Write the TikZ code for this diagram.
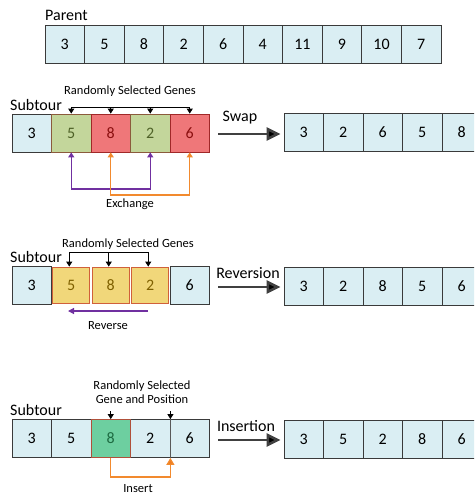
\documentclass[tikz,border=0pt]{standalone}
\usepackage{fontspec}
\setmainfont{Carlito}
\usetikzlibrary{arrows.meta}
\definecolor{cellblue}{HTML}{DAEEF3}
\definecolor{cellborder}{HTML}{3A3A3A}
\definecolor{gfill}{HTML}{C3D69B}
\definecolor{gtext}{HTML}{4F6228}
\definecolor{gborder}{HTML}{8B5A3C}
\definecolor{rfill}{HTML}{EF7779}
\definecolor{rtext}{HTML}{8B1010}
\definecolor{rborder}{HTML}{A02828}
\definecolor{yfill}{HTML}{F1D77A}
\definecolor{ytext}{HTML}{7F6000}
\definecolor{yborder}{HTML}{D0603A}
\definecolor{mfill}{HTML}{6DCFA0}
\definecolor{mtext}{HTML}{1D6B42}
\definecolor{mborder}{HTML}{B0503A}
\definecolor{purp}{HTML}{7030A0}
\definecolor{orng}{HTML}{F28A2E}
\definecolor{orngtip}{HTML}{F07D1E}
\tikzset{
  cell/.style={draw=cellborder, line width=0.8pt, fill=cellblue, minimum width=39.5pt, minimum height=38pt, inner sep=0pt, font=\fontsize{16}{19}\selectfont},
  gcell/.style={cell, fill=gfill, draw=gborder, text=gtext},
  rcell/.style={cell, fill=rfill, draw=rborder, text=rtext},
  ycell/.style={cell, fill=yfill, draw=yborder, text=ytext, minimum width=37pt, minimum height=36pt},
  mcell/.style={cell, fill=mfill, draw=mborder, text=mtext},
  biglabel/.style={font=\fontsize{16}{19}\selectfont, inner sep=0pt},
  smalllabel/.style={font=\fontsize{12.5}{15}\selectfont, inner sep=0pt, align=center},
  bracket/.style={line width=0.8pt, black},
  downarrow/.style={line width=0.8pt, black, -{Triangle[width=6pt,length=5pt]}},
  oparrow/.style={line width=2.6pt, black!75, -{Triangle[width=13pt,length=14pt,fill=black]}, shorten >=3pt},
  purpline/.style={line width=1.2pt, purp, {Triangle[width=6pt,length=5pt]}-{Triangle[width=6pt,length=5pt]}},
  orngline/.style={line width=1.3pt, orng, {Triangle[width=6pt,length=5pt,fill=orngtip]}-{Triangle[width=6pt,length=5pt,fill=orngtip]}},
}
\begin{document}
\begin{tikzpicture}[x=1pt,y=-1pt]
\useasboundingbox (0,0) rectangle (474,495);
\clip (0,0) rectangle (474,495);

% Parent
\node[biglabel, anchor=base west] (parentlbl) at (45,21) {Parent};
\foreach \v [count=\i] in {3,5,8,2,6,4,11,9,10,7}{
  \node[cell, minimum width=39.6pt] (p\i) at ({45+19.8+39.6*(\i-1)},44) {\v};
}

% ---- Swap ----
\node[biglabel, anchor=base west] (sub1) at (10,110) {Subtour};
\node[cell] (s1) at (31.75,133) {3};
\node[gcell] (s2) at (71.25,133) {5};
\node[rcell] (s3) at (110.75,133) {8};
\node[gcell] (s4) at (150.25,133) {2};
\node[rcell] (s5) at (189.75,133) {6};
\node[smalllabel] (rsg1) at (130,91) {Randomly Selected Genes};
\draw[bracket] (s2.north |- 0,107) -- (s5.north |- 0,107);
\foreach \k in {2,3,4,5}{ \draw[downarrow] (s\k.north |- 0,107) -- (s\k.north); }
\draw[purpline] (s2.south) -- (s2.south |- 0,189) -- (s4.south |- 0,189) -- (s4.south);
\draw[orngline] (s3.south) -- (s3.south |- 0,195) -- (s5.south |- 0,195) -- (s5.south);
\node[smalllabel] (exch) at (130,204) {Exchange};

\coordinate (sw0) at (218,134);
\node[biglabel] (swaplbl) at (240,118) {Swap};
\foreach \v [count=\i] in {3,2,6,5,8}{
  \node[cell] (t\i) at ({284+19.75+39.5*(\i-1)},132.5) {\v};
}
\draw[oparrow] (sw0) -- (t1.west |- sw0);

% ---- Reversion ----
\node[biglabel, anchor=base west] (sub2) at (10,262) {Subtour};
\node[cell] (u1) at (31.75,285) {3};
\node[ycell] (u2) at (71.25,285) {5};
\node[ycell] (u3) at (110.75,285) {8};
\node[ycell] (u4) at (150.25,285) {2};
\node[cell] (u5) at (189.75,285) {6};
\node[smalllabel] (rsg2) at (128,244) {Randomly Selected Genes};
\draw[bracket] ([xshift=-2pt]u2.north |- 0,252) -- ([xshift=-2pt]u4.north |- 0,252);
\foreach \k in {2,3,4}{ \draw[downarrow] ([xshift=-2pt]u\k.north |- 0,252) -- ([xshift=-2pt]u\k.north); }
\coordinate (rv0) at (148,311);
\coordinate (rv1) at (68,311);
\draw[line width=1.2pt, purp, -{Triangle[width=6pt,length=6pt]}] (rv0) -- (rv1);
\node[smalllabel] (revlbl) at (108,326) {Reverse};

\coordinate (re0) at (218,287);
\node[biglabel] (reversionlbl) at (248,273) {Reversion};
\foreach \v [count=\i] in {3,2,8,5,6}{
  \node[cell] (v\i) at ({284+19.75+39.5*(\i-1)},286) {\v};
}
\draw[oparrow] (re0) -- (v1.west |- re0);

% ---- Insertion ----
\node[biglabel, anchor=base west] (sub3) at (10,415) {Subtour};
\node[cell] (w1) at (31.75,438.5) {3};
\node[cell] (w2) at (71.25,438.5) {5};
\node[cell] (w4) at (150.25,438.5) {2};
\node[cell] (w5) at (189.75,438.5) {6};
\node[mcell] (w3) at (110.75,438.5) {8};
\draw[line width=1.2pt, black!65] (w4.north east) -- (w4.south east);
\node[smalllabel] (rsg3) at (142,392) {Randomly Selected\\[-1pt]Gene and Position};
\draw[downarrow] (w3.north |- 0,411) -- (w3.north);
\draw[downarrow] (w4.north east |- 0,411) -- (w4.north east);
\draw[line width=1.3pt, orng, -{Triangle[width=8pt,length=7pt,fill=orngtip]}] (w3.south) -- (w3.south |- 0,477) -- (w4.south east |- 0,477) -- (w4.south east);
\node[smalllabel] (inslbl) at (138,489) {Insert};

\coordinate (in0) at (218,440);
\node[biglabel] (insertionlbl) at (246,426) {Insertion};
\foreach \v [count=\i] in {3,5,2,8,6}{
  \node[cell] (x\i) at ({284+19.75+39.5*(\i-1)},439) {\v};
}
\draw[oparrow] (in0) -- (x1.west |- in0);
\end{tikzpicture}
\end{document}
